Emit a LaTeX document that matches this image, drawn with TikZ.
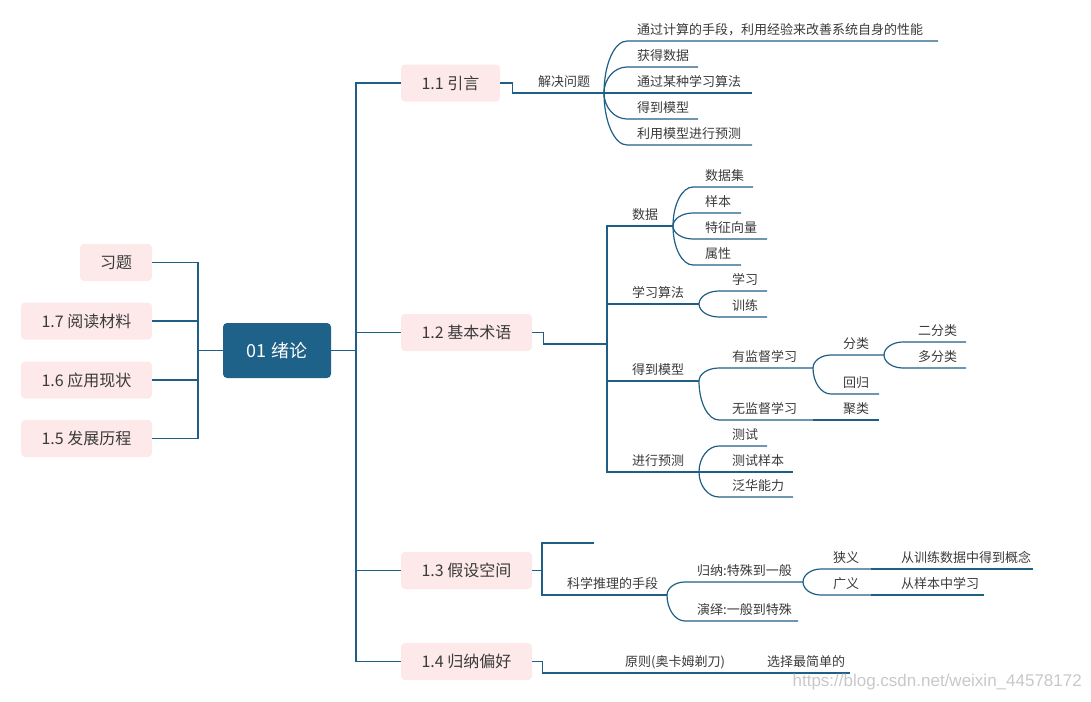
\documentclass[tikz,border=0pt]{standalone}
\usepackage{fontspec}
\usetikzlibrary{calc}
\setmainfont{Noto Sans CJK SC}
\newfontfamily\wmfont{Liberation Sans}
\definecolor{linec}{HTML}{1F5F86}
\definecolor{rootc}{HTML}{1E6189}
\definecolor{pinkc}{HTML}{FDE9EA}
\definecolor{txtc}{HTML}{3A3A3A}
\definecolor{wmc}{HTML}{C8C8C8}
% #1 name, #2 parent, #3 start x, #4 y, #5 end x, #6 text x, #7 text
\newcommand\twig[7]{%
  \coordinate (#1s) at (#3,#4);
  \coordinate (#1e) at (#5,#4);
  \draw[conn] (#2) .. controls ($(#2)!0.55!(#2 |- #1s)$) and ($(#1s)!0.55!(#2 |- #1s)$) .. (#1s) -- (#1e);
  \node[lbl] (#1t) at (#6,#4-10) {#7};}
\begin{document}
\begin{tikzpicture}[x=1pt,y=-1pt,
  conn/.style={draw=linec,line width=1.2pt},
  topic/.style={rectangle,rounded corners=4pt,fill=pinkc,text=txtc,inner sep=0pt,minimum height=37pt,font=\fontsize{16}{19}\selectfont},
  rootbox/.style={rectangle,rounded corners=4pt,fill=rootc,text=white,inner sep=0pt,minimum width=108pt,minimum height=55pt,font=\fontsize{18}{21}\selectfont},
  lbl/.style={anchor=west,inner sep=0pt,text=txtc,font=\fontsize{13}{15}\selectfont,text height=0.88em,text depth=0.12em},
]
\useasboundingbox (0,0) rectangle (1091,701);
% root
\node[rootbox] (root) at (277,350.5) {01 绪论};
% left side
\node[topic,minimum width=72pt] (xt) at (116,262.5) {习题};
\node[topic,minimum width=131pt] (t17) at (86.5,321) {1.7 阅读材料};
\node[topic,minimum width=131pt] (t16) at (86.5,380) {1.6 应用现状};
\node[topic,minimum width=131pt] (t15) at (86.5,438.5) {1.5 发展历程};
\coordinate (lj) at (198,350.5);
\draw[conn] (root.west) -- (lj);
\draw[conn] (xt.east) -| (lj) |- (t15.east);
\draw[conn] (t17.east) -- (t17.east -| lj);
\draw[conn] (t16.east) -- (t16.east -| lj);
% right side
\node[topic,minimum width=99pt] (t11) at (450.5,83) {1.1 引言};
\node[topic,minimum width=131pt] (t12) at (466.5,332.5) {1.2 基本术语};
\node[topic,minimum width=131pt] (t13) at (466.5,570.5) {1.3 假设空间};
\node[topic,minimum width=131pt] (t14) at (466.5,661.5) {1.4 归纳偏好};
\coordinate (rj) at (356,350.5);
\draw[conn] (root.east) -- (rj);
\draw[conn] (t11.west) -| (rj) |- (t14.west);
\draw[conn] (t12.west) -- (t12.west -| rj);
\draw[conn] (t13.west) -- (t13.west -| rj);
% 1.1
\coordinate (b11) at (604,93);
\draw[conn] (t11.east) -- ++(12,0) |- (b11);
\node[lbl] (l11) at (538,82.5) {解决问题};
\twig{na}{b11}{627}{41}{938}{637}{通过计算的手段，利用经验来改善系统自身的性能}
\twig{nb}{b11}{627}{67}{698}{637}{获得数据}
\twig{nc}{b11}{627}{93}{752}{637}{通过某种学习算法}
\twig{nd}{b11}{627}{119}{698}{637}{得到模型}
\twig{ne}{b11}{627}{145}{752}{637}{利用模型进行预测}
% 1.2
\coordinate (b12) at (607,344);
\draw[conn] (t12.east) -- ++(11,0) |- (b12);
\coordinate (sj) at (673,226);
\coordinate (xx) at (699,304);
\coordinate (mx) at (699,381);
\coordinate (yc) at (699,472);
\draw[conn] (sj) -- (sj -| b12) -- (yc -| b12) -- (yc);
\draw[conn] (b12 |- xx) -- (xx);
\draw[conn] (b12 |- mx) -- (mx);
\node[lbl] (lsj) at (632,216) {数据};
\node[lbl] (lxx) at (632,294) {学习算法};
\node[lbl] (lmx) at (632,371) {得到模型};
\node[lbl] (lyc) at (632,462) {进行预测};
\twig{da}{sj}{693}{187}{753}{705}{数据集}
\twig{db}{sj}{693}{213}{741}{705}{样本}
\twig{dc}{sj}{693}{239}{767}{705}{特征向量}
\twig{dd}{sj}{693}{265}{741}{705}{属性}
\twig{xa}{xx}{719}{291}{767}{732}{学习}
\twig{xb}{xx}{719}{317}{767}{732}{训练}
\twig{yj}{mx}{719}{368}{813}{732}{有监督学习}
\twig{wj}{mx}{719}{420}{813}{732}{无监督学习}
\twig{fl}{yje}{831}{355}{884}{843}{分类}
\twig{hg}{yje}{831}{394}{879}{843}{回归}
\twig{ef}{fle}{903}{342}{966}{918}{二分类}
\twig{df}{fle}{903}{368}{966}{918}{多分类}
\coordinate (jle) at (879,420);
\draw[conn] (wje) -- (jle);
\node[lbl] (jlt) at (843,410) {聚类};
\twig{ca}{yc}{719}{446}{767}{732}{测试}
\twig{cb}{yc}{719}{472}{793}{732}{测试样本}
\twig{cc}{yc}{719}{497}{793}{732}{泛华能力}
% 1.3
\coordinate (b13) at (542,570.5);
\coordinate (e13) at (594,543);
\coordinate (kx) at (667,595);
\draw[conn] (t13.east) -- (b13);
\draw[conn] (e13) -- (e13 -| b13) -- (kx -| b13) -- (kx);
\node[lbl] (lkx) at (567,585) {科学推理的手段};
\twig{gn}{kx}{685}{582}{803}{697}{归纳:特殊到一般}
\twig{yy}{kx}{685}{621}{798}{697}{演绎:一般到特殊}
\twig{xy}{gne}{821}{569}{871}{833}{狭义}
\twig{gy}{gne}{821}{595}{871}{833}{广义}
\coordinate (xyf) at (1033,569);
\coordinate (gyf) at (984,595);
\draw[conn] (xye) -- (xyf);
\draw[conn] (gye) -- (gyf);
\node[lbl] (xyft) at (901,559) {从训练数据中得到概念};
\node[lbl] (gyft) at (901,585) {从样本中学习};
% 1.4
\coordinate (yz) at (737,673);
\coordinate (xz) at (850,673);
\draw[conn] (t14.east) -- ++(10,0) |- (yz) -- (xz);
\node[lbl] (lyz) at (625,663) {原则(奥卡姆剃刀)};
\node[lbl] (lxz) at (767,663) {选择最简单的};
% watermark
\node[anchor=east,inner sep=0pt,text=wmc,font=\wmfont\fontsize{17}{19}\selectfont] (wm) at (1082,682) {https://blog.csdn.net/weixin\_44578172};
\end{tikzpicture}
\end{document}
